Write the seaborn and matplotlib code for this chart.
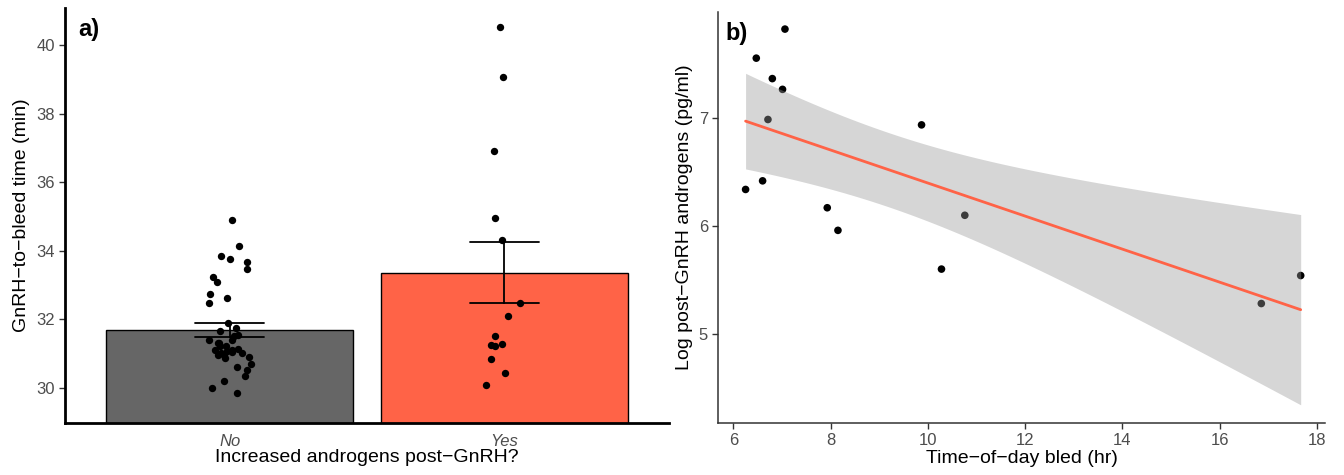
import numpy as np
import pandas as pd
import matplotlib
matplotlib.use("Agg")
import matplotlib.pyplot as plt
import seaborn as sns

# ---------------- data ----------------
# Panel a: GnRH-to-bleed time (min) by group
time_no = [34.90, 34.15, 33.85, 33.75, 33.68, 33.46, 33.25, 33.09, 32.74, 32.63,
           32.49, 31.89, 31.75, 31.66, 31.56, 31.51, 31.39, 31.39, 31.32, 31.23,
           31.23, 31.15, 31.09, 31.11, 31.05, 31.01, 31.01, 30.95, 30.88, 30.89,
           30.70, 30.60, 30.53, 30.35, 30.20, 30.01, 29.86, 31.10, 30.95, 31.30]
time_yes = [40.53, 39.07, 36.91, 34.95, 34.33, 32.48, 32.11, 31.52, 31.23, 31.29,
            31.26, 30.85, 30.44, 30.09]
group_labels = ["No", "Yes"]
bar_colors = ["#666666", "#FF6347"]

# Panel b: time of day bled vs log post-GnRH androgens
hour_bled = [7.06, 6.47, 6.80, 7.01, 6.71, 9.87, 6.25, 6.60, 7.93, 8.15,
             10.76, 10.28, 16.86, 17.67]
log_andro = [7.83, 7.56, 7.37, 7.27, 6.99, 6.94, 6.34, 6.42, 6.17, 5.96,
             6.10, 5.60, 5.28, 5.54]

# ---------------- style ----------------
sns.set_style("white")
plt.rcParams["font.family"] = ["Liberation Sans", "DejaVu Sans"]
tick_col = "#4D4D4D"

fig = plt.figure(figsize=(13.44, 4.75), dpi=100)
axa = fig.add_axes([0.0484, 0.1095, 0.4494, 0.8735])
axb = fig.add_axes([0.5345, 0.1095, 0.4510, 0.8655])

# ---------------- panel a ----------------
dfa = pd.DataFrame({
    "group": [group_labels[0]] * len(time_no) + [group_labels[1]] * len(time_yes),
    "time": time_no + time_yes,
})
sns.barplot(data=dfa, x="group", y="time", hue="group", order=group_labels,
            palette=dict(zip(group_labels, bar_colors)), saturation=1,
            errorbar="se", capsize=0.25, width=0.9, edgecolor="black",
            linewidth=1.0, err_kws={"color": "black", "linewidth": 1.3},
            legend=False, ax=axa, zorder=1)
np.random.seed(3)
sns.stripplot(data=dfa, x="group", y="time", order=group_labels, color="black",
              jitter=0.08, size=5.3, ax=axa, zorder=3)
axa.set_xlim(-0.6, 1.6)
axa.set_ylim(28.98, 41.08)
axa.set_yticks([30, 32, 34, 36, 38, 40])
axa.set_xticks([0, 1])
axa.set_xticklabels(group_labels, style="italic")
axa.set_xlabel("Increased androgens post\u2212GnRH?", fontsize=14, color="black", labelpad=0)
axa.set_ylabel("GnRH\u2212to\u2212bleed time (min)", fontsize=14, color="black")
axa.tick_params(axis="y", length=4, width=1, color="#333333", labelcolor=tick_col,
                labelsize=12, direction="out", left=True)
axa.tick_params(axis="x", length=0, labelcolor=tick_col, labelsize=12, pad=8)
for s in ["top", "right"]:
    axa.spines[s].set_visible(False)
for s in ["left", "bottom"]:
    axa.spines[s].set_color("black")
    axa.spines[s].set_linewidth(2)
axa.text(0.022, 0.975, "a)", transform=axa.transAxes, fontsize=17, color="black",
         fontweight="bold", va="top", ha="left")

# ---------------- panel b ----------------
dfb = pd.DataFrame({"hour": hour_bled, "andro": log_andro})
sns.scatterplot(data=dfb, x="hour", y="andro", color="black", s=30,
                edgecolor="none", ax=axb, zorder=1)

# linear fit with analytic 95% confidence band
xv = np.asarray(hour_bled)
yv = np.asarray(log_andro)
n = len(xv)
slope, intercept = np.polyfit(xv, yv, 1)
grid = np.linspace(xv.min(), xv.max(), 80)
pred = intercept + slope * grid
resid = yv - (intercept + slope * xv)
s_err = np.sqrt(np.sum(resid ** 2) / (n - 2))
sxx = np.sum((xv - xv.mean()) ** 2)
se_fit = s_err * np.sqrt(1.0 / n + (grid - xv.mean()) ** 2 / sxx)
t_crit = 2.1788  # t(0.975, df=12)
axb.fill_between(grid, pred - t_crit * se_fit, pred + t_crit * se_fit,
                 color="#999999", alpha=0.4, linewidth=0, zorder=2)
sns.lineplot(x=grid, y=pred, color="#FF6347", linewidth=2.0, ax=axb, zorder=3)

axb.set_xlim(5.69, 18.16)
axb.set_ylim(4.17, 7.99)
axb.set_xticks([6, 8, 10, 12, 14, 16, 18])
axb.set_yticks([5, 6, 7])
axb.set_xlabel("Time\u2212of\u2212day bled (hr)", fontsize=14, color="black", labelpad=1)
axb.set_ylabel("Log post\u2212GnRH androgens (pg/ml)", fontsize=14, color="black")
axb.tick_params(axis="both", length=4, width=1, color="#333333", labelcolor=tick_col,
                labelsize=12, direction="out", left=True, bottom=True)
for s in ["top", "right"]:
    axb.spines[s].set_visible(False)
for s in ["left", "bottom"]:
    axb.spines[s].set_color("#333333")
    axb.spines[s].set_linewidth(1.1)
axb.text(0.012, 0.975, "b)", transform=axb.transAxes, fontsize=17, color="black",
         fontweight="bold", va="top", ha="left")

fig.savefig("out.png", dpi=100)
